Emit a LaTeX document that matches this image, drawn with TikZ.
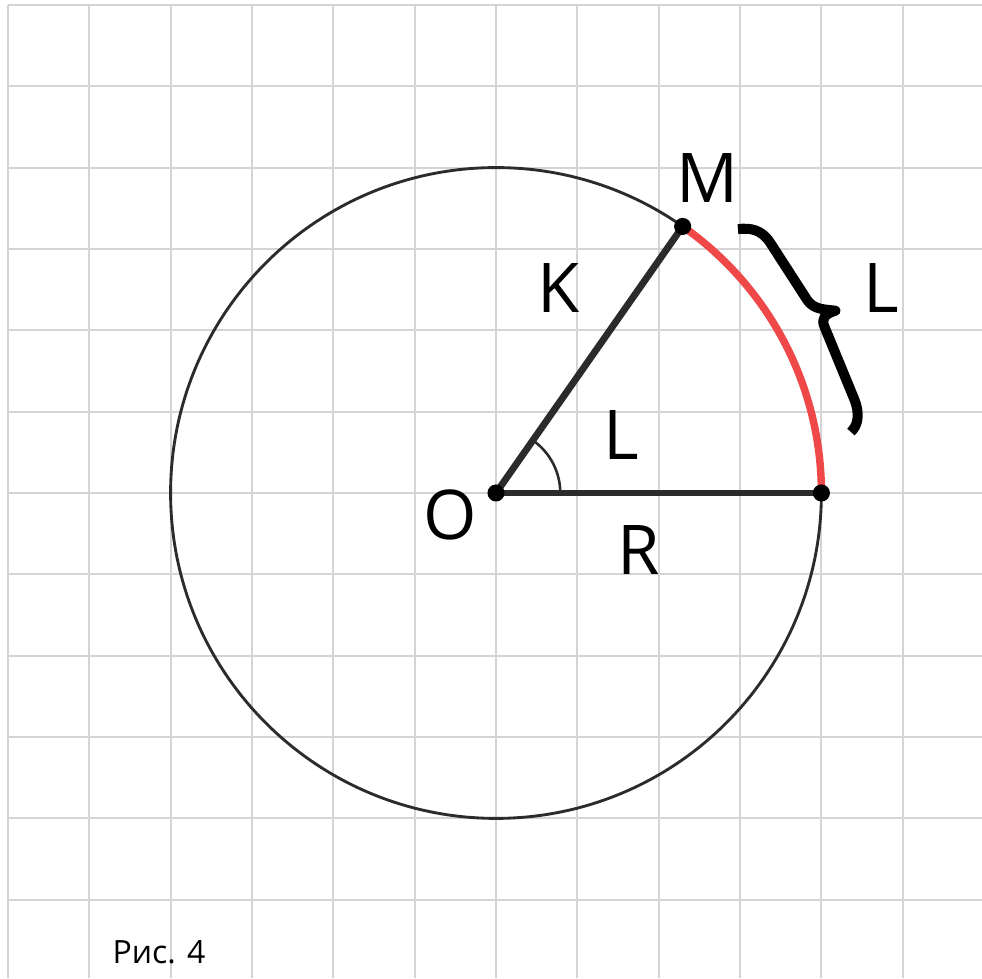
\documentclass[tikz,border=0pt]{standalone}
\usepackage{fontspec}
\setmainfont{Open Sans}
\usepackage{tikz}
\usetikzlibrary{calc}
\definecolor{gridgray}{HTML}{D4D4D4}
\definecolor{ink}     {HTML}{2B2B2B}
\definecolor{arcred}  {HTML}{EF4848}

\begin{document}
\begin{tikzpicture}[
  % squared paper, one cell is 1 cm; the circle has radius 4 cells
  paper/.style={draw=gridgray, line width=0.7pt},
  rim/.style={draw=ink, line width=1pt},
  radline/.style={draw=ink, line width=2.4pt},
  arcpart/.style={draw=arcred, line width=2.6pt},
  anglemark/.style={draw=ink, line width=0.9pt},
  pointdot/.style={circle, fill=black, inner sep=0pt, minimum size=0.21cm},
  letter/.style={inner sep=0pt, font=\fontsize{24}{28}\selectfont},
  % the brace is drawn like a "}" glyph, in a frame laid along its chord
  bracket/.style={draw=black, line width=3.5pt, line cap=butt, line join=round}
]
\useasboundingbox (-6.097,-5.962) rectangle (5.974,6.06);
\draw[paper] (-6,-5.962) grid (5.974,6);

\coordinate (O) at (0,0);
\coordinate (M) at (55:4);
\coordinate (A) at (4,0);

\draw[rim] (O) circle[radius=4];
\draw[arcpart] (A) arc[start angle=0, end angle=55, radius=4];
\draw[radline] (O) -- (M);
\draw[radline] (O) -- (A);
\draw[anglemark] ([shift={(0.79,0)}]O) arc[start angle=0, end angle=55, radius=0.79];

\node[pointdot] (dotO) at (O) {};
\node[pointdot] (dotM) at (M) {};
\node[pointdot] (dotA) at (A) {};

\coordinate (braceTop) at (2.974, 3.244);
\begin{scope}[shift={(braceTop)}, rotate=-60.9]
  \draw[bracket] (0,0) .. controls (0.06,0.14) and (0.14,0.25) .. (0.34,0.265)
    -- (1.18,0.32) .. controls (1.32,0.335) and (1.38,0.45) .. (1.46,0.56)
    .. controls (1.43,0.42) and (1.46,0.355) .. (1.57,0.345)
    -- (2.5,0.235) .. controls (2.74,0.21) and (2.83,0.1) .. (2.855,0);
\end{scope}

\node[letter] (labM)  at (2.60, 3.868) {M};
\node[letter] (labK)  at (0.771, 2.52) {K};
\node[letter] (labL)  at (1.54, 0.713) {L};
\node[letter] (labO)  at (-0.565, -0.27) {O};
\node[letter] (labR)  at (1.758, -0.695) {R};
\node[letter] (labLL) at (4.737, 2.516) {L};

\node[inner sep=0pt, anchor=base west, font=\fontsize{11.2}{13}\selectfont] (caption)
  at (-4.72, -5.778) {Рис. 4};

\end{tikzpicture}
\end{document}
